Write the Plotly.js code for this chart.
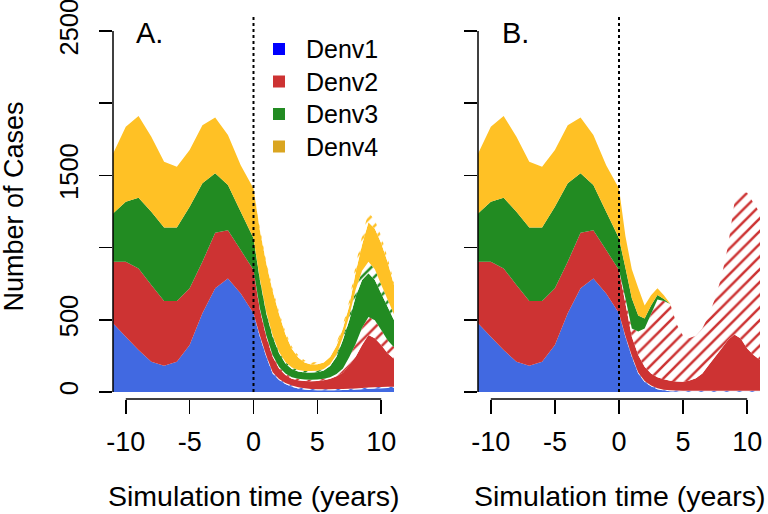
<!DOCTYPE html>
<html>
<head>
<meta charset="utf-8">
<script src="https://cdn.plot.ly/plotly-3.0.1.min.js"></script>
<style>
  html, body { margin: 0; padding: 0; background: #fff; }
  #chart { width: 768px; height: 514px; }
</style>
</head>
<body>
<div id="chart"></div>
<script>
// ── Dengue cases by serotype: observed (t <= 0) and simulated (t > 0) ──

// observed years, shared by both panels
const yearsObs = [-11, -10, -9, -8, -7, -6, -5, -4, -3, -2, -1, 0];
const obsD1 = [477, 383, 291, 210, 182, 210, 325, 545, 718, 787, 683, 545];
const obsD2 = [425, 519, 565, 531, 448, 420, 393, 357, 385, 334, 300, 300];
const obsD3 = [335, 415, 489, 507, 510, 510, 565, 543, 411, 312, 265, 219];
const obsD4 = [413, 520, 566, 519, 454, 420, 392, 403, 387, 346, 323, 346];

// simulated years
const yearsSim = [0.5, 1, 1.5, 2, 2.5, 3, 3.5, 4, 4.5, 5, 5.5, 6, 6.5, 7, 7.5, 8, 8.5, 9, 9.5, 10, 10.5, 11];

// panel A: solid = cases, hatched = extra cases (per serotype)
const simA_D1  = [383, 245, 129, 83, 55, 37, 25, 18, 14, 12, 12, 12, 13, 14, 15, 17, 20, 23, 25, 27, 28, 28];
const simA_D1h = [8, 8, 8, 8, 8, 8, 8, 8, 8, 8, 8, 8, 8, 8, 8, 8, 8, 8, 8, 8, 8, 8];
const simA_D2  = [177, 130, 108, 73, 55, 47, 49, 51, 53, 57, 62, 72, 89, 112, 164, 220, 297, 364, 339, 290, 232, 194];
const simA_D2h = [10, 10, 10, 10, 10, 10, 10, 10, 10, 10, 10, 10, 15, 30, 55, 90, 120, 125, 125, 105, 90, 80];
const simA_D3  = [197, 152, 128, 94, 70, 58, 50, 48, 50, 51, 58, 78, 120, 196, 256, 325, 330, 302, 278, 253, 233, 188];
const simA_D3h = [10, 10, 10, 10, 10, 10, 10, 10, 10, 10, 10, 12, 15, 20, 30, 50, 65, 80, 75, 60, 50, 40];
const simA_D4  = [335, 336, 307, 262, 192, 130, 88, 60, 45, 45, 45, 50, 60, 60, 70, 120, 180, 273, 280, 287, 259, 202];
const simA_D4h = [15, 15, 15, 15, 15, 15, 15, 15, 15, 15, 15, 15, 20, 25, 35, 50, 60, 70, 60, 50, 30, 20];

// panel B
const simB_D1  = [383, 245, 129, 70, 40, 20, 10, 6, 4, 3, 3, 3, 3, 3, 3, 3, 3, 3, 3, 3, 3, 3];
const simB_D1h = [6, 6, 6, 6, 6, 6, 6, 6, 6, 6, 6, 6, 6, 6, 6, 6, 6, 6, 6, 6, 6, 6];
const simB_D2  = [225, 132, 121, 99, 83, 76, 72, 66, 64, 63, 71, 86, 120, 178, 236, 293, 351, 390, 361, 293, 247, 213];
const simB_D2h = [36, 57, 164, 265, 411, 538, 542, 532, 396, 318, 295, 295, 311, 343, 405, 498, 650, 910, 1019, 1077, 1053, 1017];
const simB_D3  = [210, 210, 110, 70, 60, 32, 15, 0, 0, 0, 0, 0, 0, 0, 0, 0, 0, 0, 0, 0, 0, 0];
const simB_D3h = [0, 0, 0, 0, 0, 0, 0, 0, 0, 0, 0, 0, 0, 0, 0, 0, 0, 0, 0, 0, 0, 0];
const simB_D4  = [220, 200, 190, 90, 70, 46, 25, 2, 0, 0, 0, 0, 0, 0, 0, 0, 0, 0, 0, 0, 0, 0];
const simB_D4h = [0, 0, 0, 0, 0, 0, 0, 0, 0, 0, 0, 0, 0, 0, 0, 0, 0, 0, 0, 0, 0, 0];

const serotypes = ['Denv1', 'Denv2', 'Denv3', 'Denv4'];
const areaColors = ['#4169E1', '#CD3333', '#228B22', '#FFC125'];
const keyColors  = ['#0000FF', '#CD3333', '#228B22', '#DAA520'];

const FONT = 'Liberation Sans, Arial, Helvetica, sans-serif';
const years = yearsObs.concat(yearsSim);
const noObs = yearsObs.map(() => 0);

function panelTraces(sim, xa, ya, grp) {
    const obs = [obsD1, obsD2, obsD3, obsD4];
    const out = [];
    for (let i = 0; i < 4; i++) {
        out.push({
            type: 'scatter', mode: 'none', x: years, y: obs[i].concat(sim[i][0]),
            stackgroup: grp, xaxis: xa, yaxis: ya,
            fillcolor: areaColors[i], line: { width: 0 },
            hoverinfo: 'skip', showlegend: false,
        });
        out.push({
            type: 'scatter', mode: 'none', x: years, y: noObs.concat(sim[i][1]),
            stackgroup: grp, xaxis: xa, yaxis: ya,
            fillcolor: '#ffffff', line: { width: 0 },
            fillpattern: { shape: '/', fgcolor: areaColors[i], bgcolor: '#ffffff', size: 9, solidity: 0.28 },
            hoverinfo: 'skip', showlegend: false,
        });
    }
    return out;
}

const traces = [].concat(
    panelTraces([[simA_D1, simA_D1h], [simA_D2, simA_D2h], [simA_D3, simA_D3h], [simA_D4, simA_D4h]], 'x', 'y', 'a'),
    panelTraces([[simB_D1, simB_D1h], [simB_D2, simB_D2h], [simB_D3, simB_D3h], [simB_D4, simB_D4h]], 'x2', 'y2', 'b')
);

const px = v => v / 768;
const py = v => 1 - v / 514;

const xAxis = (dom, anchor) => ({
    domain: dom, anchor: anchor, range: [-11, 11],
    showgrid: false, zeroline: false, showline: false,
    ticks: 'outside', ticklen: 14, tickwidth: 1.5, tickcolor: '#000',
    tickvals: [-10, -5, 0, 5, 10], ticktext: ['-10', '-5', '0', '5', '10'],
    tickfont: { family: FONT, size: 27, color: '#000' }, ticklabelstandoff: 5,
});
const yAxis = (anchor, labels) => ({
    domain: [py(399), py(16.5)], anchor: anchor, range: [-48, 2600],
    showgrid: false, zeroline: false, showline: false,
    ticks: 'outside', ticklen: 13, tickwidth: 1.5, tickcolor: '#000',
    tickvals: [0, 500, 1000, 1500, 2000, 2500], ticktext: ['0', '500', '', '1500', '', '2500'],
    tickangle: -90, showticklabels: labels, ticklabeloverflow: 'allow',
    tickfont: { family: FONT, size: 25.5, color: '#000' }, ticklabelstandoff: 11,
});

const shapes = [];
const annotations = [];
[['x', 'y'], ['x2', 'y2']].forEach(([xa, ya]) => {
    shapes.push({ type: 'line', xref: xa + ' domain', yref: ya, x0: 0, x1: 0, y0: 0, y1: 2500,
                  line: { color: '#000', width: 1.5 } });
    shapes.push({ type: 'line', xref: xa, yref: ya + ' domain', x0: -10, x1: 10, y0: 0, y1: 0,
                  line: { color: '#000', width: 1.5 } });
    shapes.push({ type: 'line', xref: xa, yref: ya, x0: 0, x1: 0, y0: 0, y1: 2600,
                  line: { color: '#000', width: 2, dash: 'dot' } });
});

// legend (panel A)
const keyY = [49, 81.5, 114, 146.5];
serotypes.forEach((s, i) => {
    shapes.push({ type: 'rect', xref: 'paper', yref: 'paper',
                  x0: px(273), x1: px(285), y0: py(keyY[i] + 6), y1: py(keyY[i] - 6),
                  fillcolor: keyColors[i], line: { width: 0 } });
    annotations.push({ xref: 'paper', yref: 'paper', x: px(304), y: py(keyY[i]),
                       xanchor: 'left', yanchor: 'middle', showarrow: false, text: s,
                       font: { family: FONT, size: 25, color: '#000' } });
});

const txt = (text, x, y, size, extra) => Object.assign({
    xref: 'paper', yref: 'paper', x: px(x), y: py(y), showarrow: false, text: text,
    font: { family: FONT, size: size, color: '#000' },
}, extra || {});

annotations.push(
    txt('A.', 134, 33, 29, { xanchor: 'left', yanchor: 'middle' }),
    txt('B.', 500, 33, 29, { xanchor: 'left', yanchor: 'middle' }),
    txt('Number of Cases', 13, 206.5, 27, { xanchor: 'center', yanchor: 'middle', textangle: -90 }),
    txt('Simulation time (years)', 253.5, 514, 28.5, { xanchor: 'center', yanchor: 'bottom' }),
    txt('Simulation time (years)', 619, 514, 28.5, { xanchor: 'center', yanchor: 'bottom' })
);

const layout = {
    width: 768, height: 514,
    margin: { l: 0, r: 0, t: 0, b: 0 },
    paper_bgcolor: '#fff', plot_bgcolor: '#fff',
    showlegend: false,
    xaxis:  xAxis([px(113), px(394)], 'y'),
    xaxis2: xAxis([px(478), px(760)], 'y2'),
    yaxis:  yAxis('x', true),
    yaxis2: yAxis('x2', false),
    shapes: shapes,
    annotations: annotations,
};

Plotly.newPlot('chart', traces, layout, { staticPlot: true, displayModeBar: false });
</script>
</body>
</html>
